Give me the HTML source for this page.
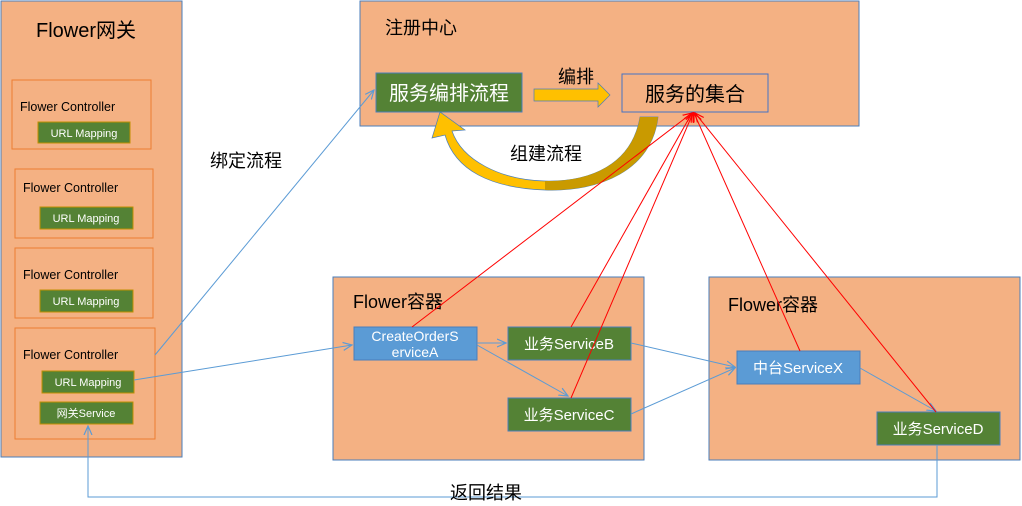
<!DOCTYPE html>
<html><head><meta charset="utf-8"><style>
body{margin:0;background:#fff;width:1022px;height:501px;overflow:hidden}
svg text{font-family:"Liberation Sans","Noto Sans CJK SC",sans-serif}
</style></head><body>
<svg width="1022" height="501" viewBox="0 0 1022 501" xmlns="http://www.w3.org/2000/svg">
<defs>
<marker id="ab" markerWidth="10" markerHeight="10" refX="9" refY="5" orient="auto" markerUnits="userSpaceOnUse"><path d="M0,1 L9,5 L0,9" fill="none" stroke="#5b9bd5" stroke-width="1.2"/></marker>
<marker id="ar" markerWidth="10" markerHeight="10" refX="9" refY="5" orient="auto" markerUnits="userSpaceOnUse"><path d="M0,1 L9,5 L0,9" fill="none" stroke="#f00" stroke-width="1.2"/></marker>
</defs>
<!-- gateway -->
<rect x="1" y="1" width="181" height="456" fill="#f4b183" stroke="#4a7ebb"/>
<text x="36" y="37" font-size="20">Flower网关</text>
<g fill="none" stroke="#ed7d31">
<rect x="12" y="80" width="139" height="69"/>
<rect x="15" y="169" width="138" height="69"/>
<rect x="15" y="248" width="138" height="70"/>
<rect x="15" y="328" width="140" height="111"/>
</g>
<g font-size="12.5"><text x="20" y="111">Flower Controller</text><text x="23" y="192">Flower Controller</text><text x="23" y="279">Flower Controller</text><text x="23" y="359">Flower Controller</text></g>
<g fill="#548235" stroke="#bf9000">
<rect x="38" y="122" width="92" height="21"/><rect x="40" y="207" width="93" height="22"/><rect x="40" y="290" width="93" height="22"/><rect x="42" y="371" width="92" height="22"/><rect x="40" y="402" width="93" height="22"/>
</g>
<g fill="#fff" font-size="11" text-anchor="middle"><text x="84" y="137">URL Mapping</text><text x="86" y="222">URL Mapping</text><text x="86" y="305">URL Mapping</text><text x="88" y="386">URL Mapping</text><text x="86" y="417">网关Service</text></g>
<!-- registry -->
<rect x="360" y="1" width="499" height="125" fill="#f4b183" stroke="#4a7ebb"/>
<text x="385" y="34" font-size="18">注册中心</text>
<rect x="376" y="73" width="146" height="39" fill="#548235" stroke="#4a7ebb"/>
<text x="449" y="100" font-size="20" fill="#fff" text-anchor="middle">服务编排流程</text>
<rect x="622" y="74" width="146" height="38" fill="none" stroke="#4472c4"/>
<text x="695" y="101" font-size="20" text-anchor="middle">服务的集合</text>
<path d="M534,89 L598,89 L598,83 L610,95 L598,107 L598,101 L534,101 Z" fill="#ffc000" stroke="#4a7ebb" stroke-width="0.7"/>
<text x="558" y="83" font-size="18">编排</text>
<path d="M640,117 L658,117 C652,170 600,192 545,190 C490,188 455,170 445,135 L432,138 L440,112 L465,130 L452,131 C462,160 500,180 545,181 C590,182 632,165 640,117 Z" fill="#ffc000" stroke="#4a7ebb" stroke-width="0.7"/>
<path d="M640,117 L658,117 C652,170 600,192 545,190 L545,181 C590,182 632,165 640,117 Z" fill="#c99a00"/>
<text x="510" y="160" font-size="18">组建流程</text>
<text x="210" y="167" font-size="18">绑定流程</text>
<!-- containers -->
<rect x="333" y="277" width="311" height="183" fill="#f4b183" stroke="#4a7ebb"/>
<rect x="709" y="277" width="311" height="183" fill="#f4b183" stroke="#4a7ebb"/>
<text x="353" y="308" font-size="18">Flower容器</text>
<text x="728" y="311" font-size="18">Flower容器</text>
<rect x="354" y="327" width="123" height="33" fill="#5b9bd5" stroke="#4a7ebb"/>
<text x="415" y="341" font-size="14" fill="#fff" text-anchor="middle">CreateOrderS</text>
<text x="415" y="357" font-size="14" fill="#fff" text-anchor="middle">erviceA</text>
<rect x="508" y="327" width="123" height="33" fill="#548235" stroke="#4a7ebb"/>
<text x="569" y="349" font-size="15" fill="#fff" text-anchor="middle">业务ServiceB</text>
<rect x="508" y="398" width="123" height="33" fill="#548235" stroke="#4a7ebb"/>
<text x="569" y="420" font-size="15" fill="#fff" text-anchor="middle">业务ServiceC</text>
<rect x="737" y="351" width="123" height="33" fill="#5b9bd5" stroke="#4a7ebb"/>
<text x="798" y="373" font-size="15" fill="#fff" text-anchor="middle">中台ServiceX</text>
<rect x="877" y="412" width="123" height="33" fill="#548235" stroke="#4a7ebb"/>
<text x="938" y="434" font-size="15" fill="#fff" text-anchor="middle">业务ServiceD</text>
<!-- blue connectors -->
<g stroke="#5b9bd5" stroke-width="1" fill="none">
<line x1="155" y1="355" x2="374" y2="90" marker-end="url(#ab)"/>
<line x1="134" y1="380" x2="352" y2="345" marker-end="url(#ab)"/>
<line x1="477" y1="343" x2="506" y2="343" marker-end="url(#ab)"/>
<line x1="477" y1="345" x2="568" y2="396" marker-end="url(#ab)"/>
<line x1="631" y1="343" x2="735" y2="367" marker-end="url(#ab)"/>
<line x1="631" y1="414" x2="735" y2="368" marker-end="url(#ab)"/>
<line x1="860" y1="368" x2="936" y2="411" marker-end="url(#ab)"/>
<polyline points="937,445 937,497 88,497 88,426" marker-end="url(#ab)"/>
</g>
<!-- red -->
<g stroke="#f00" stroke-width="1">
<line x1="412" y1="327" x2="692" y2="113" marker-end="url(#ar)"/>
<line x1="571" y1="327" x2="692" y2="113" marker-end="url(#ar)"/>
<line x1="571" y1="398" x2="693" y2="113" marker-end="url(#ar)"/>
<line x1="800" y1="351" x2="694" y2="113" marker-end="url(#ar)"/>
<line x1="936" y1="412" x2="695" y2="113" marker-end="url(#ar)"/>
</g>
<text x="450" y="499" font-size="18">返回结果</text>
</svg>
</body></html>
